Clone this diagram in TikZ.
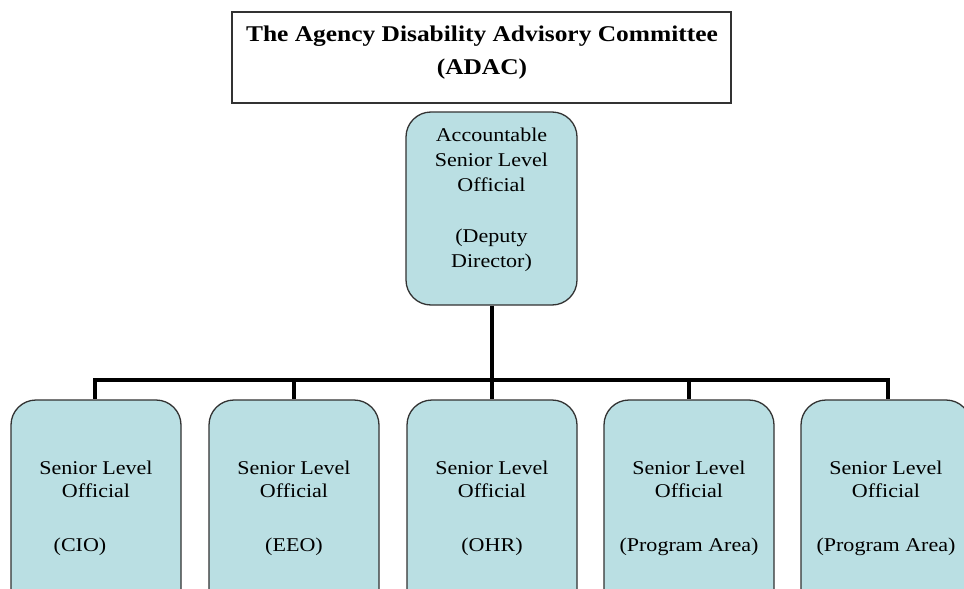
\documentclass[tikz,border=0pt]{standalone}
\usepackage{fontspec}
\setmainfont{Liberation Serif}[FakeStretch=1.13]
\definecolor{boxfill}{RGB}{186,223,227}
\definecolor{boxline}{RGB}{50,50,50}
\begin{document}
\begin{tikzpicture}[x=1pt,y=-1pt,
  orgbox/.style={draw=boxline, line width=1.3pt, fill=boxfill, rounded corners=25pt,
     minimum width=170pt, inner sep=0pt, anchor=center},
  bodytext/.style={font=\fontsize{19.5}{23}\selectfont, align=center, inner sep=0pt},
  conn/.style={line width=4pt, draw=black},
  titlebox/.style={draw=boxline, line width=1.3pt, fill=white, minimum width=499pt,
     minimum height=91pt, inner sep=0pt}]
\useasboundingbox (0,0) rectangle (964,589);
\clip (0,0) rectangle (964,589);
\fill[white] (0,0) rectangle (964,589);
% title
\node[titlebox] (title) at (481.5,57.5) {};
\node[font=\fontsize{22.5}{33}\selectfont\bfseries, align=center, inner sep=0pt] (titleT) at (482,53)
  {The Agency Disability Advisory Committee\\(ADAC)};
% top node
\node[orgbox, minimum width=171pt, minimum height=193pt] (acct) at (491.5,208.5) {};
\node[bodytext, font=\fontsize{19.5}{25}\selectfont] (acctT) at (491.5,200)
  {Accountable\\Senior Level\\Official\\[26pt](Deputy\\Director)};
% bus
\coordinate (bus) at (491.5,380);
\coordinate (busL) at (95,380);
\coordinate (busR) at (888,380);
% bottom boxes
\node[orgbox, minimum height=216pt] (cio) at (96,508) {};
\node[orgbox, minimum height=216pt] (eeo) at (294,508) {};
\node[orgbox, minimum height=216pt] (ohr) at (492,508) {};
\node[orgbox, minimum height=216pt] (pa1) at (689,508) {};
\node[orgbox, minimum height=216pt] (pa2) at (886,508) {};
\node[bodytext] (cioT) at (96,508) {Senior Level\\Official\\[31pt](CIO)\hspace*{32pt}};
\node[bodytext] (eeoT) at (294,508) {Senior Level\\Official\\[31pt](EEO)};
\node[bodytext] (ohrT) at (492,508) {Senior Level\\Official\\[31pt](OHR)};
\node[bodytext] (pa1T) at (689,508) {Senior Level\\Official\\[31pt](Program Area)};
\node[bodytext] (pa2T) at (886,508) {Senior Level\\Official\\[31pt](Program Area)};
% connectors
\draw[conn] (acct.south) -- (bus);
\draw[conn, line cap=rect] (busL) -- (busR);
\draw[conn] (busL) -- (busL |- cio.north);
\draw[conn] (eeo.north |- bus) -- (eeo.north);
\draw[conn] (ohr.north |- bus) -- (ohr.north);
\draw[conn] (pa1.north |- bus) -- (pa1.north);
\draw[conn] (busR) -- (busR |- pa2.north);
\end{tikzpicture}
\end{document}
